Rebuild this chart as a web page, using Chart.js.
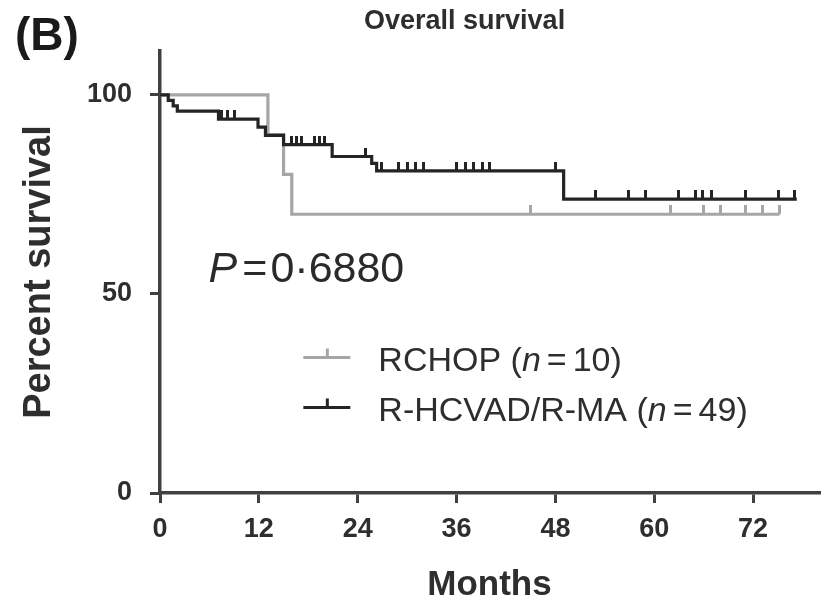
<!DOCTYPE html>
<html>
<head>
<meta charset="utf-8">
<title>Overall survival</title>
<script src="https://cdn.jsdelivr.net/npm/chart.js@4.4.1/dist/chart.umd.min.js"></script>
<style>
  html, body { margin: 0; padding: 0; background: #fff; }
  canvas { display: block; }
</style>
</head>
<body>
<canvas id="os-chart" width="827" height="607"></canvas>
<script>
// axis ticks
var xTicks = [0, 12, 24, 36, 48, 60, 72];   // months
var yTicks = [0, 50, 100];                  // percent survival

// R-HCVAD/R-MA (n = 49): step times (months) and survival after each step (%)
var hcvadTimes = [0, 1.0, 1.6, 2.1, 7.1, 11.9, 12.8, 15.0, 20.9, 25.7, 26.3, 49.0, 77.3];
var hcvadSurv  = [100, 98.6, 97.2, 95.9, 93.9, 91.9, 89.8, 87.5, 84.5, 82.8, 80.9, 73.8, 73.8];
var hcvadCensored = [7.5, 8.2, 9.0, 16.0, 16.6, 17.2, 18.8, 19.4, 20.0, 24.9,
                     26.9, 29.0, 30.0, 31.0, 32.0, 36.0, 37.1, 38.1, 39.1, 40.0, 48.0,
                     52.9, 56.9, 58.9, 63.0, 65.0, 65.8, 67.0, 71.1, 75.1, 77.0];

// RCHOP (n = 10)
var rchopTimes = [0, 13.1, 15.0, 16.0, 75.2];
var rchopSurv  = [100, 90, 80, 70, 70];
var rchopCensored = [45.0, 62.0, 66.0, 68.0, 71.1, 73.1, 75.2];

var legendRows = [
    { label: 'RCHOP', n: 10, color: '#a6a6a6' },
    { label: 'R-HCVAD/R-MA', n: 49, color: '#242424' }
];
var pValue = '0\u00b76880';

var FONT = '"Liberation Sans", Arial, sans-serif';
var axisColor = '#404040';
var textColor = '#2e2e2e';

// survival level of a step curve at time t
function levelAt(times, surv, t) {
    var s = surv[0];
    for (var i = 0; i < times.length; i++) {
        if (times[i] <= t) s = surv[i];
    }
    return s;
}

// censor mark: short vertical tick sitting on top of the curve
function tickMark(color) {
    var c = document.createElement('canvas');
    c.width = 3;
    c.height = 18;
    var g = c.getContext('2d');
    g.fillStyle = color;
    g.fillRect(0, 0, 3, 9);
    return c;
}

function curve(label, times, surv, color) {
    return {
        label: label,
        data: times.map(function (t, i) { return { x: t, y: surv[i] }; }),
        borderColor: color,
        borderWidth: 3.2,
        stepped: 'before',
        pointRadius: 0,
        fill: false
    };
}

function censors(label, times, curveTimes, curveSurv, color) {
    return {
        label: label,
        data: times.map(function (t) { return { x: t, y: levelAt(curveTimes, curveSurv, t) }; }),
        showLine: false,
        pointStyle: tickMark(color),
        pointRadius: 4
    };
}

// title, panel letter, p value and legend
var annotations = {
    id: 'annotations',
    afterDraw: function (chart) {
        var ctx = chart.ctx;
        var x = chart.scales.x, y = chart.scales.y;
        ctx.save();
        ctx.textBaseline = 'middle';
        ctx.textAlign = 'left';

        ctx.fillStyle = '#1a1a1a';
        ctx.font = 'bold 46px ' + FONT;
        ctx.fillText('(B)', 15, 37);

        ctx.fillStyle = textColor;
        ctx.font = 'bold 27px ' + FONT;
        ctx.fillText('Overall survival', 364, 22);

        // log-rank p
        var px = x.getPixelForValue(5.9), py = y.getPixelForValue(56);
        ctx.fillStyle = '#2a2a2a';
        ctx.font = 'italic 43px ' + FONT;
        ctx.fillText('P', px, py);
        px += ctx.measureText('P').width + 5;
        ctx.font = '43px ' + FONT;
        ctx.fillText('=', px, py);
        px += ctx.measureText('=').width + 3;
        ctx.fillText(pValue, px, py);

        // legend
        legendRows.forEach(function (row, i) {
            var lx = x.getPixelForValue(17.4);
            var ly = y.getPixelForValue(34) + i * 50;
            ctx.strokeStyle = row.color;
            ctx.lineWidth = 3;
            ctx.beginPath();
            ctx.moveTo(lx, ly);
            ctx.lineTo(lx + 47, ly);
            ctx.moveTo(lx + 24, ly);
            ctx.lineTo(lx + 24, ly - 9);
            ctx.stroke();

            var tx = lx + 75, ty = ly + 4;
            ctx.fillStyle = textColor;
            ctx.font = '34px ' + FONT;
            var head = row.label + ' (';
            ctx.fillText(head, tx, ty);
            tx += ctx.measureText(head).width;
            ctx.font = 'italic 34px ' + FONT;
            ctx.fillText('n', tx, ty);
            tx += ctx.measureText('n').width + 6;
            ctx.font = '34px ' + FONT;
            ctx.fillText('=', tx, ty);
            tx += ctx.measureText('=').width + 6;
            ctx.fillText(row.n + ')', tx, ty);
        });
        ctx.restore();
    }
};

new Chart(document.getElementById('os-chart'), {
    type: 'line',
    data: {
        datasets: [
            curve('R-HCVAD/R-MA', hcvadTimes, hcvadSurv, legendRows[1].color),
            censors('R-HCVAD/R-MA censored', hcvadCensored, hcvadTimes, hcvadSurv, legendRows[1].color),
            curve('RCHOP', rchopTimes, rchopSurv, legendRows[0].color),
            censors('RCHOP censored', rchopCensored, rchopTimes, rchopSurv, legendRows[0].color)
        ]
    },
    options: {
        responsive: false,
        animation: false,
        layout: { padding: { top: 51, right: 8, bottom: 0, left: 0 } },
        plugins: {
            legend: { display: false },
            tooltip: { enabled: false }
        },
        scales: {
            x: {
                type: 'linear',
                min: 0,
                max: 80,
                afterBuildTicks: function (s) { s.ticks = xTicks.map(function (v) { return { value: v }; }); },
                afterFit: function (s) { s.height = 114; },
                border: { color: axisColor, width: 3.5 },
                grid: { drawOnChartArea: false, color: axisColor, lineWidth: 3, tickLength: 10 },
                ticks: {
                    color: textColor, padding: 10, maxRotation: 0, autoSkip: false,
                    font: { family: FONT, size: 27, weight: 'bold' }
                },
                title: {
                    display: true, text: 'Months', color: textColor,
                    font: { family: FONT, size: 35, weight: 'bold' },
                    padding: { top: 0, bottom: 1 }
                }
            },
            y: {
                type: 'linear',
                min: 0,
                max: 111,
                afterBuildTicks: function (s) { s.ticks = yTicks.map(function (v) { return { value: v }; }); },
                afterFit: function (s) { s.width = 160; },
                border: { color: axisColor, width: 3.5 },
                grid: { drawOnChartArea: false, color: axisColor, lineWidth: 3, tickLength: 10 },
                ticks: {
                    color: textColor, padding: 18,
                    font: { family: FONT, size: 27, weight: 'bold' }
                },
                title: {
                    display: true, text: 'Percent survival', color: textColor,
                    font: { family: FONT, size: 38, weight: 'bold' },
                    padding: { top: 17, bottom: 0 }
                }
            }
        }
    },
    plugins: [annotations]
});
</script>
</body>
</html>
